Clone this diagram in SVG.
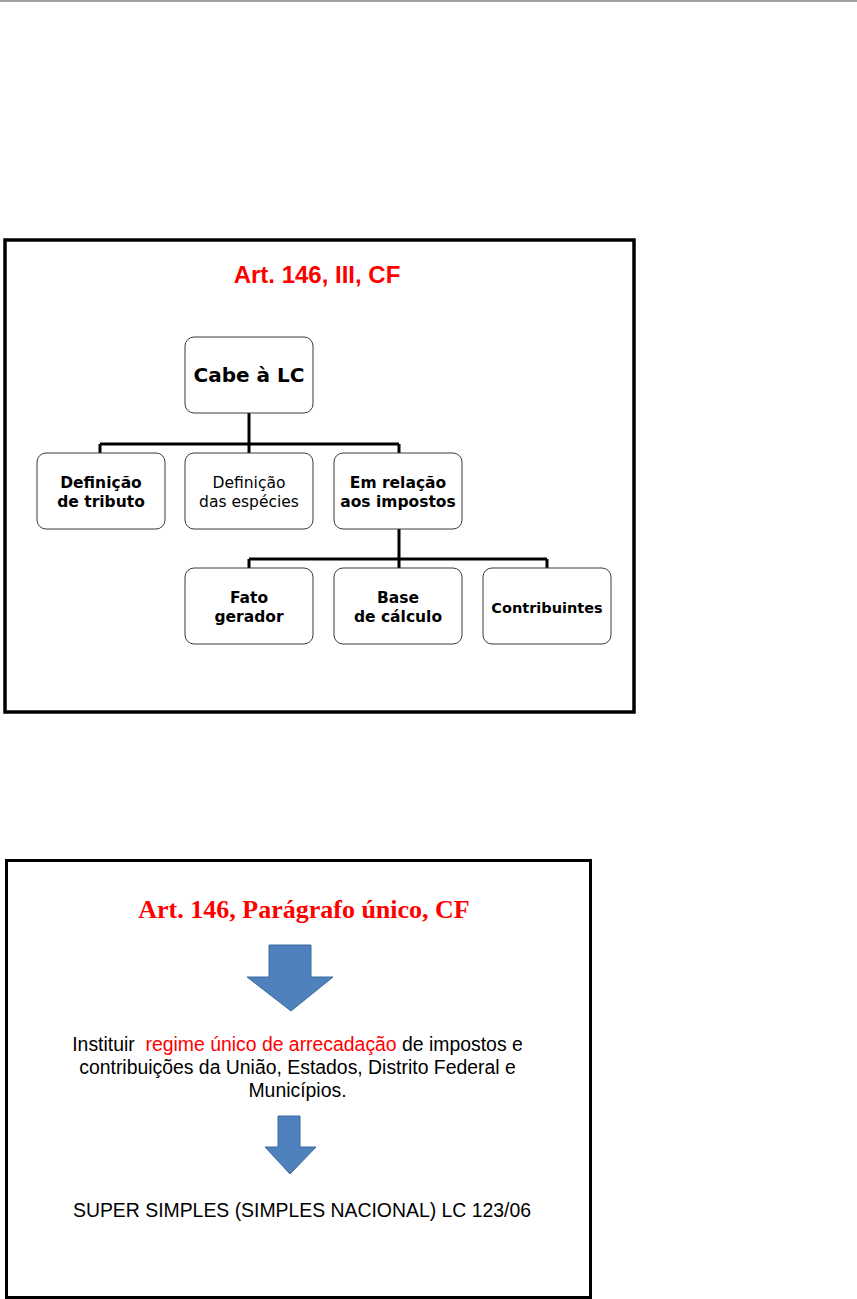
<svg xmlns="http://www.w3.org/2000/svg" width="857" height="1299" viewBox="0 0 857 1299">
<style>
.frame{fill:none;stroke:#000;}
.box{fill:#fff;stroke:#3a3a3a;stroke-width:1;}
.conn{fill:none;stroke:#000;stroke-width:3;}
.bt{font-family:"DejaVu Sans",Verdana,sans-serif;font-size:15.5px;font-weight:bold;fill:#000;text-anchor:middle;}
.rt{font-family:"DejaVu Sans",Verdana,sans-serif;font-size:15.5px;fill:#000;text-anchor:middle;}
.body{font-family:"Liberation Sans",Arial,sans-serif;font-size:19.4px;fill:#000;text-anchor:middle;white-space:pre;}
.arrow{fill:#4f81bd;stroke:#3d6a9e;stroke-width:1;}
</style>
<rect x="0" y="0" width="857" height="1299" fill="#fff"/>
<line x1="0" y1="1" x2="857" y2="1" stroke="#a0a0a0" stroke-width="2"/>

<!-- Frame 1 -->
<rect class="frame" x="5" y="240" width="629" height="472" stroke-width="3.5"/>
<text x="317" y="283" font-family="'Liberation Sans',Arial,sans-serif" font-size="24" font-weight="bold" fill="#ff0000" text-anchor="middle">Art. 146, III, CF</text>

<g id="connectors">
<path class="conn" d="M249,413 V444 M100,444 H399 M100,444 V453 M249,444 V453 M399,444 V453"/>
<path class="conn" d="M399,529 V559 M249,559 H547 M249,559 V568 M399,559 V568 M547,559 V568"/>
</g>

<g id="cabe">
<rect class="box" x="185" y="337" width="128" height="76" rx="9"/>
<text class="bt" x="249" y="382" style="font-size:20px">Cabe à LC</text>
</g>

<g id="def-tributo">
<rect class="box" x="37" y="453" width="128" height="76" rx="9"/>
<text class="bt" x="101" y="488">Definição</text>
<text class="bt" x="101" y="507">de tributo</text>
</g>

<g id="def-especies">
<rect class="box" x="185" y="453" width="128" height="76" rx="9"/>
<text class="rt" x="249" y="488">Definição</text>
<text class="rt" x="249" y="507">das espécies</text>
</g>

<g id="impostos">
<rect class="box" x="334" y="453" width="128" height="76" rx="9"/>
<text class="bt" x="398" y="488">Em relação</text>
<text class="bt" x="398" y="507">aos impostos</text>
</g>

<g id="fato">
<rect class="box" x="185" y="568" width="128" height="76" rx="9"/>
<text class="bt" x="249" y="603">Fato</text>
<text class="bt" x="249" y="622">gerador</text>
</g>

<g id="base">
<rect class="box" x="334" y="568" width="128" height="76" rx="9"/>
<text class="bt" x="398" y="603">Base</text>
<text class="bt" x="398" y="622">de cálculo</text>
</g>

<g id="contribuintes">
<rect class="box" x="483" y="568" width="128" height="76" rx="9"/>
<text class="bt" x="547" y="613" style="font-size:14.5px">Contribuintes</text>
</g>

<!-- Frame 2 -->
<rect class="frame" x="6.5" y="860.5" width="584" height="437" stroke-width="3"/>
<text x="304" y="918" font-family="'Liberation Serif','Times New Roman',serif" font-size="26" font-weight="bold" fill="#ff0000" text-anchor="middle">Art. 146, Parágrafo único, CF</text>

<g id="arrow1">
<path class="arrow" d="M269,945 H311 V977 H333 L291,1011 L247,977 H269 Z"/>
</g>

<g id="text-regime">
<text class="body" x="297.5" y="1051" xml:space="preserve">Instituir  <tspan fill="#ff0000">regime único de arrecadação</tspan> de impostos e</text>
<text class="body" x="297.5" y="1074">contribuições da União, Estados, Distrito Federal e</text>
<text class="body" x="297.5" y="1097">Municípios.</text>
</g>

<g id="arrow2">
<path class="arrow" d="M278,1116 H300 V1147 H316 L290,1174 L265,1147 H278 Z"/>
</g>

<g id="text-simples">
<text class="body" x="302" y="1217">SUPER SIMPLES (SIMPLES NACIONAL) LC 123/06</text>
</g>
</svg>
